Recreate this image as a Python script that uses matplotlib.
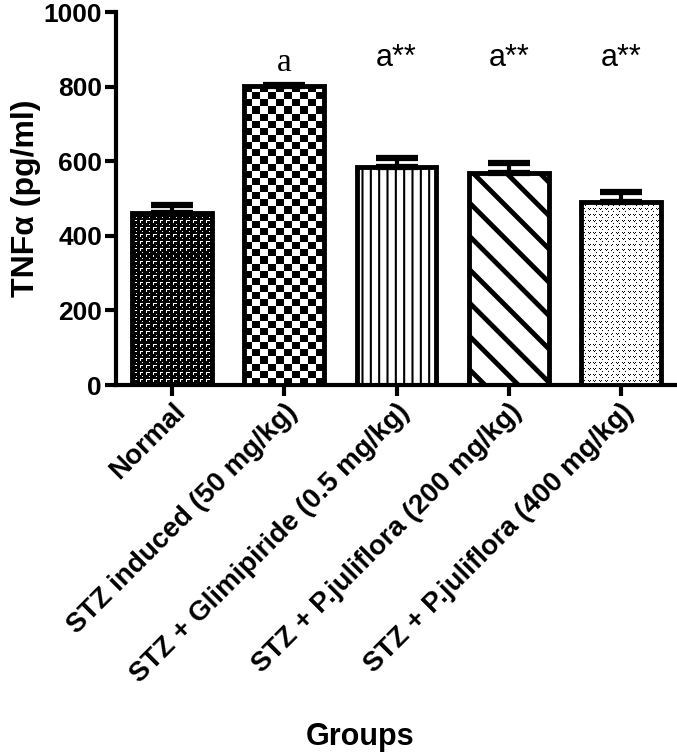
import numpy as np
import matplotlib
matplotlib.use('Agg')
import matplotlib.pyplot as plt

groups = ['Normal', 'STZ induced (50 mg/kg)', 'STZ + Glimipiride (0.5 mg/kg)',
          'STZ + P.juliflora (200 mg/kg)', 'STZ + P.juliflora (400 mg/kg)']
means = [462, 802, 584, 568, 491]
errs = [20, 2, 25, 28, 26]
sig = ['', 'a', 'a**', 'a**', 'a**']
yticks = [0, 200, 400, 600, 800, 1000]

plt.rcParams['font.family'] = ['Liberation Sans', 'DejaVu Sans']
plt.rcParams['hatch.linewidth'] = 2.0

fig = plt.figure(figsize=(6.77, 7.56), dpi=100)
ax = fig.add_axes([116/677, 1-385/756, (677-116)/677, (385-12)/756])

x = np.arange(len(groups))
w = 0.71

# fill layers
bars = ax.bar(x, means, w, color='white', edgecolor='black', linewidth=0, zorder=2)
bars[2].set_hatch('||')
bars[3].set_hatch('\\')
for b, lw in [(bars[2], 1.5), (bars[3], 3.5)]:
    try:
        b.set_hatch_linewidth(lw)
    except AttributeError:
        pass

def texture(tile, reps, i):
    img = np.tile(tile, reps)
    im = ax.imshow(img, extent=[x[i]-w/2, x[i]+w/2, 0, means[i]], aspect='auto',
                   cmap='gray', vmin=0, vmax=1, interpolation='nearest', zorder=3)
    im.set_clip_path(bars[i])

# Normal: black with small white marks
t0 = np.zeros((7, 7))
t0[1, 1:5] = 1
t0[2:4, 1] = 1
t0[5, 4] = 1
texture(t0, (25, 12), 0)

# STZ induced: checkerboard
t1 = np.array([[0., 1.], [1., 0.]])
texture(t1, (21, 5), 1)

# P.juliflora 400: white with small black v marks
t4 = np.ones((6, 6))
t4[1, 1] = 0
t4[1, 3] = 0
t4[2, 2] = 0
t4[4, 4] = 0
texture(t4, (31, 14), 4)

# outlines
ax.bar(x, means, w, fill=False, edgecolor='black', linewidth=3.5, zorder=5)
ax.errorbar(x, means, yerr=[np.zeros(len(errs)), errs], fmt='none', ecolor='black',
            elinewidth=3, capsize=15, capthick=4.5, zorder=4)

for i, s in enumerate(sig):
    if s == 'a':
        ax.text(x[i], 843, s, ha='center', va='baseline', fontsize=24, family='Liberation Serif')
    elif s:
        ax.text(x[i], 855, s, ha='center', va='baseline', fontsize=22)

ax.set_xlim(-0.5, 4.5)
ax.set_ylim(0, 1000)
ax.set_yticks(yticks)
ax.set_yticklabels([str(v) for v in yticks], fontsize=19, fontweight='bold')
ax.set_xticks(x)
ax.set_xticklabels(groups, rotation=45, ha='right', rotation_mode='anchor',
                   fontsize=20, fontweight='bold')
for s in ['top', 'right']:
    ax.spines[s].set_visible(False)
for s in ['left', 'bottom']:
    ax.spines[s].set_linewidth(3)
ax.tick_params(axis='both', length=8, width=3, pad=2)
ax.set_ylabel('TNFα (pg/ml)', fontsize=23, fontweight='bold', labelpad=2)
fig.text(360/677, 1-737/756, 'Groups', ha='center', va='center', fontsize=22, fontweight='bold')

fig.savefig('out.png', dpi=100)
